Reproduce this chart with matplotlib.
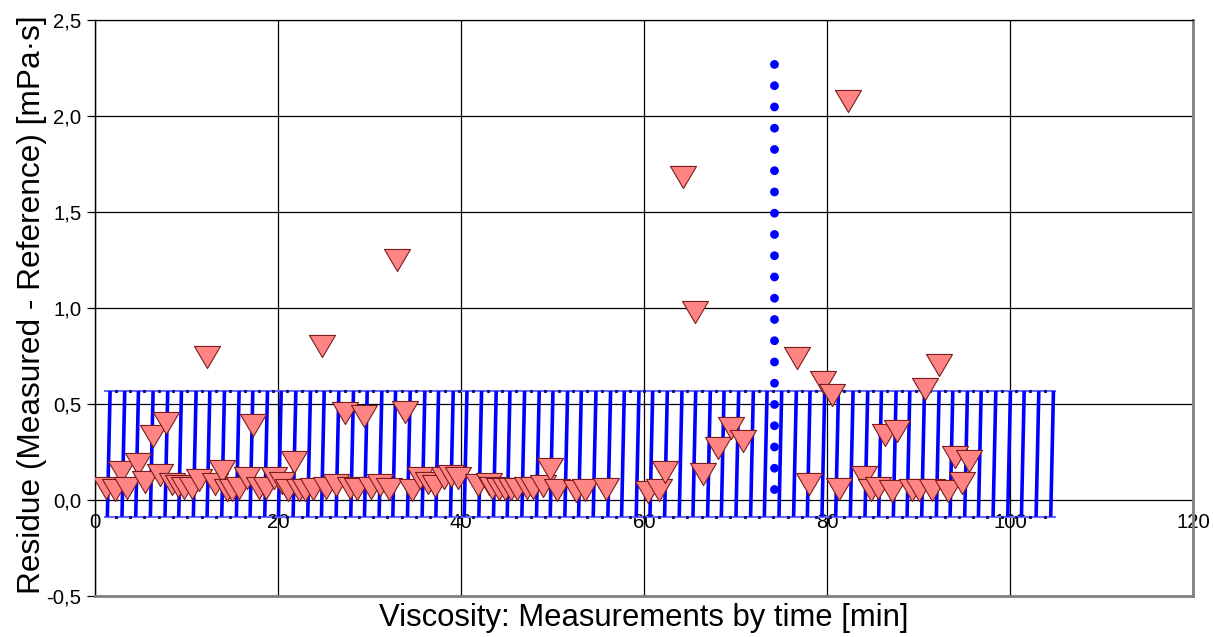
import matplotlib
matplotlib.use("Agg")
import matplotlib.pyplot as plt
from matplotlib.collections import LineCollection

# Measurement times [min] and residues (measured - reference) [mPa·s]
time_min = [
    1.17, 2.19, 2.84, 3.53, 4.66, 5.46, 6.3, 7.1, 7.72, 8.45,
    9.1, 9.76, 10.57, 11.4, 12.2, 13.1, 13.85, 14.4, 15.0, 15.7,
    16.6, 17.3, 17.9, 18.65, 19.6, 20.4, 21.06, 21.8, 22.3, 22.95,
    23.86, 24.8, 25.3, 26.3, 27.3, 27.9, 28.6, 29.4, 30.2, 31.1,
    32.1, 33.0, 33.9, 34.6, 35.5, 36.4, 37.2, 38.1, 38.9, 39.7,
    41.9, 43.1, 43.4, 44.1, 44.8, 45.5, 46.1, 47.2, 47.9, 49.0,
    49.7, 50.5, 52.6, 53.5, 55.9, 60.4, 61.6, 62.3, 64.3, 65.6,
    66.4, 68.1, 69.5, 70.8, 76.7, 78.0, 79.6, 80.5, 81.3, 82.3,
    84.0, 84.8, 85.6, 86.3, 87.1, 87.7, 89.3, 90.0, 90.7, 91.5,
    92.2, 93.2, 94.0, 94.8, 95.5,
]
residue = [
    0.061, 0.050, 0.147, 0.061, 0.189, 0.095, 0.332, 0.130, 0.401, 0.082,
    0.073, 0.061, 0.064, 0.104, 0.745, 0.085, 0.151, 0.050, 0.050, 0.061,
    0.116, 0.390, 0.061, 0.061, 0.116, 0.090, 0.050, 0.198, 0.050, 0.050,
    0.055, 0.800, 0.060, 0.080, 0.455, 0.060, 0.055, 0.440, 0.060, 0.078,
    0.059, 1.250, 0.458, 0.050, 0.113, 0.090, 0.073, 0.116, 0.125, 0.116,
    0.078, 0.085, 0.060, 0.058, 0.055, 0.055, 0.055, 0.060, 0.060, 0.073,
    0.163, 0.050, 0.045, 0.050, 0.059, 0.043, 0.050, 0.148, 1.680, 0.980,
    0.134, 0.273, 0.373, 0.307, 0.740, 0.082, 0.616, 0.545, 0.056, 2.080,
    0.120, 0.050, 0.064, 0.339, 0.045, 0.359, 0.050, 0.050, 0.580, 0.050,
    0.703, 0.045, 0.222, 0.087, 0.203,
]

# Vertical limit marker (dotted)
limit_x = 74.2
limit_y = [0.057, 2.29]

# Tolerance band: hatch line positions and band edges
band_lines = [
    1.5, 3.1, 4.6, 6.2, 7.8, 9.3, 10.9, 12.4, 14.0, 15.6,
    17.1, 18.7, 20.2, 21.8, 23.4, 24.9, 26.5, 28.1, 29.6, 31.2,
    32.7, 34.3, 35.9, 37.4, 39.0, 40.5, 42.1, 43.7, 45.2, 46.8,
    48.4, 49.9, 51.5, 53.0, 54.6, 56.2, 57.7, 59.3, 60.8, 62.4,
    64.0, 65.5, 67.1, 68.6, 70.2, 71.8, 73.3, 74.9, 76.5, 78.0,
    79.6, 81.1, 82.7, 84.3, 85.8, 87.4, 88.9, 90.5, 92.1, 93.6,
    95.2, 96.7, 98.3, 99.9, 101.4, 103.0, 104.6,
]
band_low = -0.087
band_high = 0.568
band_span = [1.0, 105.0]

x_ticks = [0, 20, 40, 60, 80, 100, 120]
x_tick_labels = ["0", "20", "40", "60", "80", "100", "120"]
y_ticks = [-0.5, 0.0, 0.5, 1.0, 1.5, 2.0, 2.5]
y_tick_labels = ["-0,5", "0,0", "0,5", "1,0", "1,5", "2,0", "2,5"]

plt.rcParams['font.family'] = ['Liberation Sans', 'DejaVu Sans']

W, H = 1213, 637
fig = plt.figure(figsize=(W / 100, H / 100), dpi=100)
ax = fig.add_axes([95 / W, 1 - 596 / H, 1098 / W, 576 / H])
ax.set_xlim(0, 120)
ax.set_ylim(-0.5, 2.5)

# grid
ax.set_axisbelow(True)
ax.grid(True, color='black', linewidth=0.9)

# tolerance band
ax.hlines([band_low, band_high], band_span[0], band_span[1],
          colors='#6a6aff', linewidth=1.5, zorder=2)
mids = [(a + b) / 2 for a, b in zip(band_lines[:-1], band_lines[1:])]
ax.plot(mids, [band_high] * len(mids), linestyle='none', marker='s',
        markersize=1.2, color='#10106a', zorder=2.1)
ax.plot(mids, [band_low] * len(mids), linestyle='none', marker='s',
        markersize=1.2, color='#10106a', zorder=2.1)
segs = [[(x - 0.15, band_low), (x + 0.15, band_high)] for x in band_lines]
ax.add_collection(LineCollection(segs, colors='#0000ff', linewidths=2.6,
                                 zorder=3))

# dotted vertical limit
ax.plot([limit_x, limit_x], limit_y, color='#0000ff', linewidth=6.4,
        linestyle=(0, (0.001, 2.39)), dash_capstyle='round', zorder=4)

# residue markers (downward triangles)
tri = [(-1, 0.85), (1, 0.85), (0, -0.85), (-1, 0.85)]
ax.plot(time_min, residue, linestyle='none', marker=tri, markersize=18.7,
        markerfacecolor='#ff8585', markeredgecolor='#7a1c1c',
        markeredgewidth=0.8, zorder=5)

# axes styling
ax.set_xticks(x_ticks)
ax.set_xticklabels(x_tick_labels)
ax.set_yticks(y_ticks)
ax.set_yticklabels(y_tick_labels)
ax.spines['bottom'].set_position(('data', 0))
ax.spines['bottom'].set_visible(False)
ax.tick_params(axis='x', length=0, pad=9, labelsize=14.6)
ax.tick_params(axis='y', length=5.8, width=0.9, pad=4, labelsize=14.6)
ax.spines['left'].set_color('black')
ax.spines['left'].set_linewidth(1.0)
ax.spines['top'].set_color('black')
ax.spines['top'].set_linewidth(0.9)
ax.spines['right'].set_color('#808080')
ax.spines['right'].set_linewidth(2.0)
ax.axhline(-0.5, color='#808080', linewidth=2.0, clip_on=False, zorder=6)

ax.set_xlabel('Viscosity: Measurements by time [min]', fontsize=22.3)
ax.set_ylabel('Residue (Measured - Reference) [mPa·s]', fontsize=22.8)
ax.xaxis.set_label_coords(0.5, -0.012)
ax.yaxis.set_label_coords(-0.044, 0.505)

fig.savefig('out.png', dpi=100)
